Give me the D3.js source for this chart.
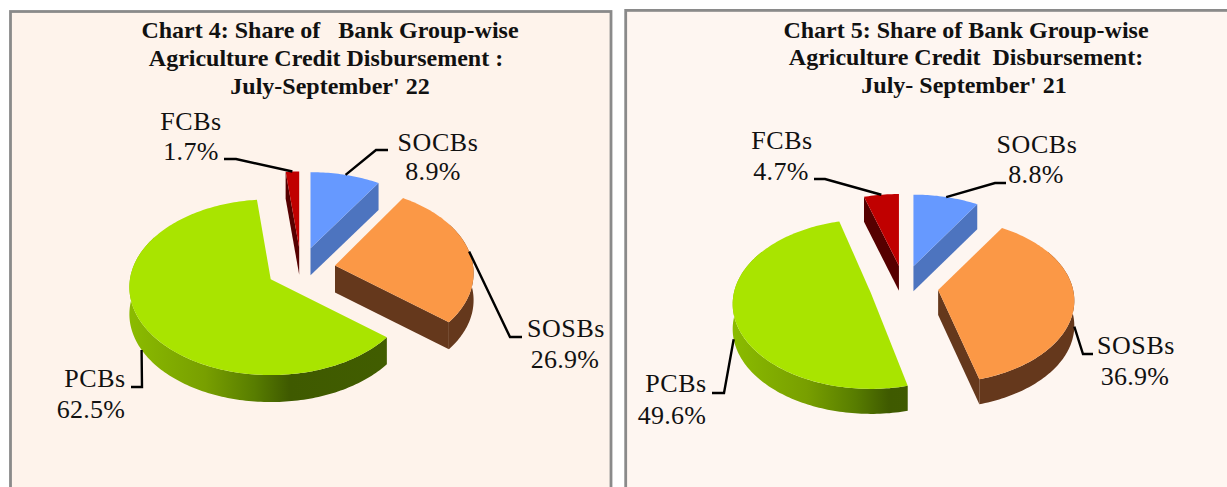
<!DOCTYPE html>
<html><head><meta charset="utf-8">
<script src="https://cdn.jsdelivr.net/npm/d3@7/dist/d3.min.js"></script>
<style>html,body{margin:0;padding:0;background:#fff;overflow:hidden}svg{display:block}
text{font-family:"Liberation Serif","Times New Roman",serif;fill:#111;white-space:pre}</style>
</head><body><svg id="c" width="1227" height="487"></svg>
<script>
// ---- data ----
const categories = ["SOCBs","SOSBs","PCBs","FCBs"];
const valuesChart4 = [8.9,26.9,62.5,1.7];
const valuesChart5 = [8.8,36.9,49.6,4.7];
const titleChart4 = ["Chart 4: Share of   Bank Group-wise","Agriculture Credit Disbursement :","July-September' 22"];
const titleChart5 = ["Chart 5: Share of Bank Group-wise","Agriculture Credit  Disbursement:","July- September' 21"];

// ---- styles ----
const topColors = ["#6699FF","#FB9846","#A9E400","#C00000"];
const wallColors = ["#4D74BF","#65381C","#5F8500","#560000"];

// ---- layout ----
const charts = [
 {id:"a",values:valuesChart4,title:titleChart4,panel:[10.5,11.5,600.5,490],fill:"#FEF3EB",
  cx:301,cy:269,rx:138,ry:83,k:.09,depth:27,ex:34.5,ey:21.5,
  sx:[1,1,1.02,1],sy:[1,1.03,1.05,1],turn:[0,0,0,0],
  titleX:[330,326,330],titleY:[38,66,94],
  label:[[438,151,433,180],[566,337,565,368],[95,387,91,418],[191,130,191,160]],
  leader:[[[376,150],[388,150]],[[510,337],[522,337]],[[142,387],[131,387]],[[236,159],[224,159]]]},
 {id:"b",values:valuesChart5,title:titleChart5,panel:[625.7,10.4,612,490],fill:"#FEF6F1",
  cx:904,cy:287,rx:135,ry:81,k:.13,depth:25,ex:34.5,ey:21.5,
  sx:[1,1,1.015,1],sy:[1,1,1.03,1],turn:[0,0,0.033,0],
  titleX:[966,966,964],titleY:[38,65,93],
  label:[[1037,153,1036,183],[1136,354,1135,385],[676,392,672,424],[782,149,781,180]],
  leader:[[[995,183],[1006,183]],[[1083,354],[1093,354]],[[724,393],[712,393]],[[825,179],[814,179]]]}
];
const svg=d3.select("#c");
const defs=svg.append("defs");
const pie=d3.pie().sort(null).value(d=>d);
const line=d3.line();

charts.forEach(ch=>{
  svg.append("rect").attr("x",ch.panel[0]).attr("y",ch.panel[1]).attr("width",ch.panel[2]).attr("height",ch.panel[3])
     .attr("fill",ch.fill).attr("stroke","#8a8a8a").attr("stroke-width",2.8);
  ch.title.forEach((t,i)=>svg.append("text").attr("x",ch.titleX[i]).attr("y",ch.titleY[i]).attr("text-anchor","middle")
     .attr("font-size",24).attr("font-weight","bold").text(t));

  const arcs=pie(ch.values).map((a,i)=>{
    const mid=(a.startAngle+a.endAngle)/2;
    return {...a,i,mid,ax:ch.cx+ch.ex*Math.sin(mid),ay:ch.cy-ch.ey*Math.cos(mid)};
  });
  const rim=(a,t0)=>{const t=t0+ch.turn[a.i],w=1+ch.k*Math.cos(t);
    return [a.ax+ch.rx*ch.sx[a.i]*Math.sin(t)/w,a.ay-ch.ry*ch.sy[a.i]*Math.cos(t)/w];};
  const sweep=(a,s,e)=>{const n=Math.max(2,Math.ceil((e-s)/0.02));
    return d3.range(n+1).map(j=>rim(a,s+(e-s)*j/n));};
  const down=p=>[p[0],p[1]+ch.depth];

  // gradient of the green outer wall
  const g=arcs[2];
  const grad=defs.append("linearGradient").attr("id","wall"+ch.id).attr("gradientUnits","userSpaceOnUse")
     .attr("x1",g.ax-ch.rx).attr("x2",g.ax+ch.rx*1.1).attr("y1",0).attr("y2",0);
  [[0,"#8ABA00"],[.25,"#789F00"],[.42,"#587D00"],[.54,"#3F5A00"],[1,"#425E00"]]
    .forEach(s=>grad.append("stop").attr("offset",s[0]).attr("stop-color",s[1]));

  // walls
  arcs.forEach(a=>{
    const col=wallColors[a.i];
    const wall=(t)=>{const p=rim(a,t);
      return line([[a.ax,a.ay],p,down(p),down([a.ax,a.ay])])+"Z";};
    if(Math.sin(a.startAngle)<-1e-6) svg.append("path").attr("d",wall(a.startAngle)).attr("fill",col);
    if(Math.sin(a.endAngle)>1e-6) svg.append("path").attr("d",wall(a.endAngle)).attr("fill",col);
    const s=Math.max(a.startAngle,Math.PI/3), e=Math.min(a.endAngle,Math.PI*5/3);
    if(e>s){const pts=sweep(a,s,e);
      svg.append("path").attr("d",line(pts.concat(pts.slice().reverse().map(down)))+"Z")
         .attr("fill",a.i===2?`url(#wall${ch.id})`:col);}
  });
  // top faces
  arcs.forEach(a=>{
    svg.append("path").attr("d",line([[a.ax,a.ay],...sweep(a,a.startAngle,a.endAngle)])+"Z").attr("fill",topColors[a.i]);
  });
  // leaders and labels
  arcs.forEach(a=>{
    let st=rim(a,a.mid);
    if(Math.cos(a.mid)<-0.1) st=down(st);
    svg.append("path").attr("d",line([st,...ch.leader[a.i]])).attr("fill","none").attr("stroke","#000").attr("stroke-width",2.4);
    const L=ch.label[a.i];
    svg.append("text").attr("x",L[0]).attr("y",L[1]).attr("text-anchor","middle").attr("font-size",26).attr("letter-spacing",0.6).text(categories[a.i]);
    svg.append("text").attr("x",L[2]).attr("y",L[3]).attr("text-anchor","middle").attr("font-size",26).attr("letter-spacing",0.3).text(d3.format(".1f")(a.value)+"%");
  });
});
</script></body></html>
